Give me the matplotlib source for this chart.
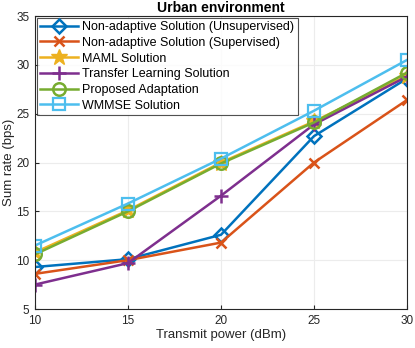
import matplotlib
matplotlib.use("Agg")
import matplotlib.pyplot as plt

power = [10, 15, 20, 25, 30]
unsup = [9.3, 10.1, 12.6, 22.7, 28.6]
sup = [8.6, 10.0, 11.8, 20.0, 26.4]
maml = [10.8, 15.1, 20.0, 24.2, 28.9]
transfer = [7.5, 9.7, 16.6, 23.9, 28.8]
proposed = [10.6, 15.0, 19.9, 24.1, 29.2]
wmmse = [11.5, 15.8, 20.4, 25.3, 30.5]

labels = ["Non-adaptive Solution (Unsupervised)", "Non-adaptive Solution (Supervised)",
          "MAML Solution", "Transfer Learning Solution", "Proposed Adaptation", "WMMSE Solution"]

plt.rcParams['font.family'] = ['Liberation Sans', 'DejaVu Sans']
fig = plt.figure(figsize=(4.15, 3.48), dpi=100)
ax = fig.add_axes([35/415, 1-309/348, (407-35)/415, (309-16)/348])

series = [
    (unsup, '#0072BD', 'D', dict(markersize=7.5, markerfacecolor='none', markeredgewidth=1.8)),
    (sup, '#D95319', 'x', dict(markersize=7, markeredgewidth=1.8)),
    (maml, '#EDB120', '*', dict(markersize=12)),
    (transfer, '#7E2F8E', '+', dict(markersize=10, markeredgewidth=1.8)),
    (proposed, '#77AC30', 'o', dict(markersize=9, markerfacecolor='none', markeredgewidth=1.8)),
    (wmmse, '#4DBEEE', 's', dict(markersize=8, markerfacecolor='none', markeredgewidth=1.6)),
]
for (vals, c, m, kw), lab in zip(series, labels):
    ax.plot(power, vals, color=c, marker=m, linewidth=1.8, label=lab, **kw)

ax.set_xlim(10, 30)
ax.set_ylim(5, 35)
ax.set_xticks([10, 15, 20, 25, 30])
ax.set_yticks([5, 10, 15, 20, 25, 30, 35])
ax.grid(True, color='#ececec', linewidth=0.8)
ax.set_axisbelow(True)
ax.tick_params(labelsize=8.5, direction='in', length=3, colors='#262626', pad=4)
for s in ax.spines.values():
    s.set_color('#262626')
    s.set_linewidth(0.8)
ax.set_xlabel('Transmit power (dBm)', fontsize=9.5, color='#262626', labelpad=2)
ax.set_ylabel('Sum rate (bps)', fontsize=9.5, color='#262626', labelpad=1)
ax.set_title('Urban environment', fontsize=10, fontweight='bold', pad=3)
leg = ax.legend(loc='upper left', fontsize=9.0, frameon=True, fancybox=False,
                edgecolor='#262626', borderpad=0.25, labelspacing=0.3, handlelength=3.0,
                handletextpad=0.4, borderaxespad=0.15)
leg.get_frame().set_linewidth(0.8)

fig.savefig('out.png', dpi=100)
